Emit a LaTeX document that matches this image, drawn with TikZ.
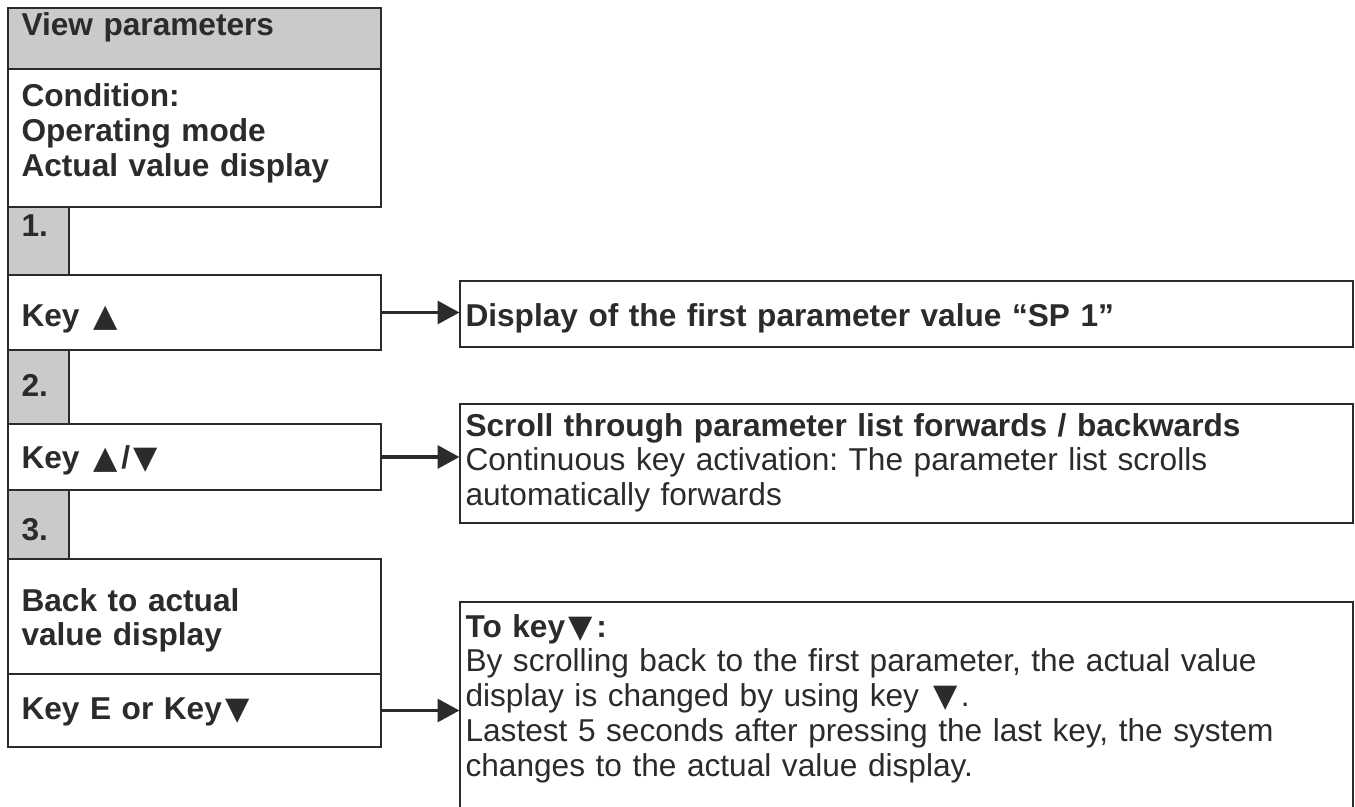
\documentclass[tikz,border=0pt]{standalone}
\usepackage{fontspec}
\setmainfont{Liberation Sans}
\newfontfamily\trifont{DejaVu Sans}
\newcommand{\keyup}{\kern2pt{\trifont ▲}\kern2pt}
\newcommand{\keydown}{\kern2pt{\trifont ▼}\kern2pt}
\usetikzlibrary{arrows.meta,fit}
\definecolor{panelgray}{HTML}{C9CAC9}
\definecolor{inkgray}{HTML}{2B2B2B}
\frenchspacing

\begin{document}
\begin{tikzpicture}[
	x=0.02cm, y=-0.02cm,
	line width=0.6pt,
	font=\fontsize{18}{19.85}\selectfont,
	box/.style={
		draw=inkgray,
		rectangle,
		inner sep=0pt
	},
	graybox/.style={
		box,
		fill=panelgray
	},
	txt/.style={
		text=inkgray,
		anchor=base west,
		inner sep=0pt,
		text width=17cm,
		align=left
	},
	keytxt/.style={
		txt,
		font=\fontsize{18}{19.85}\selectfont\bfseries
	},
	arrow/.style={
		draw=inkgray,
		line width=2.1pt,
		-{Triangle[length=12.5pt,width=13pt]}
	}
]
\useasboundingbox (0,0) rectangle (1355,807);
\clip (0,0) rectangle (1355,807);

% left column
\node[graybox, fit={(8,8) (381,69)}] (vp) {};
\node[box, fit={(8,69) (381,207)}] (cond) {};
\node[graybox, fit={(8,207) (69,275)}] (s1) {};
\node[box, fit={(8,275) (381,350)}] (key1) {};
\node[graybox, fit={(8,350) (69,424)}] (s2) {};
\node[box, fit={(8,424) (381,490)}] (key2) {};
\node[graybox, fit={(8,490) (69,559)}] (s3) {};
\node[box, fit={(8,559) (381,674)}] (back) {};
\node[box, fit={(8,674) (381,747)}] (keye) {};

\node[keytxt] (vp-t) at (21,36) {View parameters};
\node[keytxt] (cond-t) at (21,107) {Condition:\\Operating mode\\Actual value display};
\node[keytxt] (s1-t) at (21,237) {1.};
\node[keytxt] (key1-t) at (21,327) {Key \keyup};
\node[keytxt] (s2-t) at (21,397) {2.};
\node[keytxt] (key2-t) at (21,468) {Key \keyup/\keydown};
\node[keytxt] (s3-t) at (21,540) {3.};
\node[keytxt] (back-t) at (21,611) {Back to actual\\value display};
\node[keytxt] (keye-t) at (21,719) {Key E or Key\keydown};

% right column
\node[box, fit={(460,281) (1353,347)}] (disp) {};
\node[box, fit={(460,404) (1353,523)}] (scroll) {};
\node[box, fit={(460,602) (1353,830)}] (tokey) {};

\node[keytxt] (disp-t) at (465,327) {Display of the first parameter value “SP 1”};
\node[txt] (scroll-t) at (465,436) {\textbf{Scroll through parameter list forwards / backwards}\\
	Continuous key activation: The parameter list scrolls\\automatically forwards};
\node[txt] (tokey-t) at (465,637) {\textbf{To key\keydown:}\\
	By scrolling back to the first parameter, the actual value\\
	display is changed by using key \keydown.\\
	Lastest 5 seconds after pressing the last key, the system\\
	changes to the actual value display.};

% arrows
\draw[arrow] (key1.east) -- (key1.east -| disp.west);
\draw[arrow] (key2.east) -- (key2.east -| scroll.west);
\draw[arrow] (keye.east) -- (keye.east -| tokey.west);

\end{tikzpicture}
\end{document}
